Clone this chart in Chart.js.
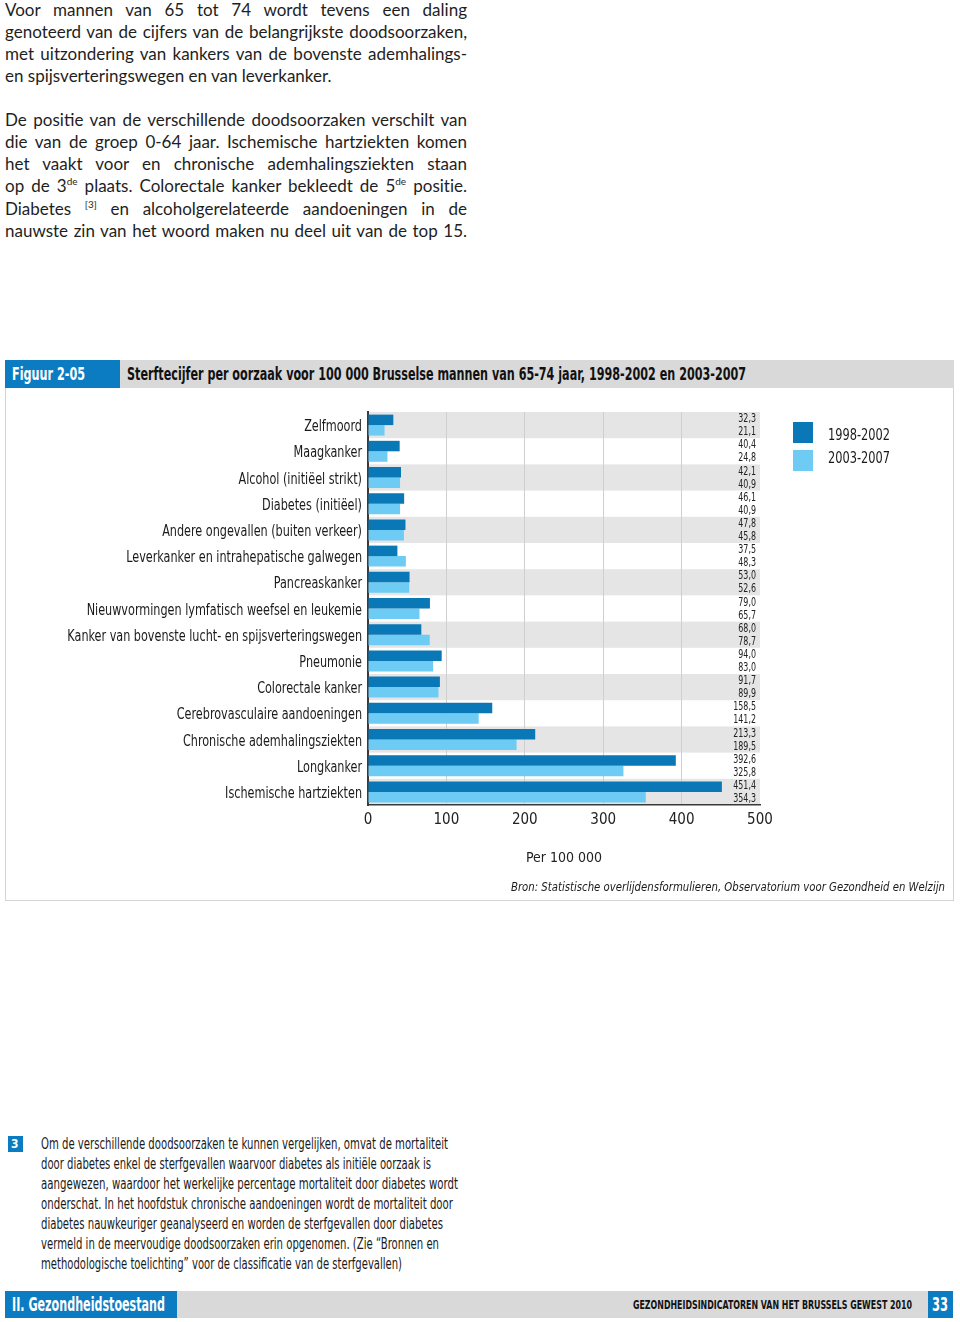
<!DOCTYPE html>
<html>
<head>
<meta charset="utf-8">
<script src="https://cdn.jsdelivr.net/npm/chart.js@4"></script>
<style>
  html, body { margin: 0; padding: 0; background: #fff; }
  body { position: relative; width: 960px; height: 1322px; overflow: hidden; color: #1a1a1a; }
  .abs { position: absolute; white-space: nowrap; }
  .j { position: absolute; left: 5px; width: 462px; font-family: Lato, "Open Sans", sans-serif; font-size: 17px;
       line-height: 22px; text-align: justify; text-align-last: justify; white-space: nowrap; color: #1e1e1e; }
  .j.last { text-align-last: left; }
  .j sup { font-size: 10px; line-height: 0; vertical-align: 7px; }
  .cond { font-family: "Liberation Sans Narrow", "DejaVu Sans Condensed", sans-serif; }
  .fit { transform-origin: 0 50%; }
  #figbox { position: absolute; left: 5px; top: 360px; width: 947px; height: 539px; border: 1px solid #d4d4d4; }
  #chartwrap { position: absolute; left: 0; top: 400px; width: 960px; height: 480px; }
</style>
</head>
<body>

<!-- body text -->
<div class="j" style="top:-1px">Voor mannen van 65 tot 74 wordt tevens een daling</div>
<div class="j" style="top:21px">genoteerd van de cijfers van de belangrijkste doodsoorzaken,</div>
<div class="j" style="top:43px">met uitzondering van kankers van de bovenste ademhalings-</div>
<div class="j last" style="top:65px">en spijsverteringswegen en van leverkanker.</div>

<div class="j" style="top:109px">De positie van de verschillende doodsoorzaken verschilt van</div>
<div class="j" style="top:131px">die van de groep 0-64 jaar. Ischemische hartziekten komen</div>
<div class="j" style="top:153px">het vaakt voor en chronische ademhalingsziekten staan</div>
<div class="j" style="top:175px">op de 3<sup>de</sup> plaats. Colorectale kanker bekleedt de 5<sup>de</sup> positie.</div>
<div class="j" style="top:198px">Diabetes <sup>[3]</sup> en alcoholgerelateerde aandoeningen in de</div>
<div class="j" style="top:220px">nauwste zin van het woord maken nu deel uit van de top 15.</div>

<!-- figure frame -->
<div id="figbox"></div>
<div class="abs" style="left:5px;top:360px;width:949px;height:28px;background:#d9d9d9"></div>
<div class="abs" style="left:5px;top:360px;width:115px;height:28px;background:#0b7cc1"></div>
<div class="abs cond fit" data-w="73" style="left:12px;top:364px;font-size:17px;font-weight:bold;color:#fff;line-height:20px">Figuur 2-05</div>
<div class="abs cond fit" data-w="619" style="left:127px;top:364px;font-size:17px;font-weight:bold;color:#111;line-height:20px">Sterftecijfer per oorzaak voor 100 000 Brusselse mannen van 65-74 jaar, 1998-2002 en 2003-2007</div>

<div id="chartwrap"><canvas id="chart" width="960" height="480"></canvas></div>

<!-- legend -->
<div class="abs" style="left:793px;top:422px;width:20px;height:21px;background:#0a78b6"></div>
<div class="abs" style="left:793px;top:450px;width:20px;height:21px;background:#6ecbf3"></div>
<div class="abs cond fit" data-w="62" style="left:828px;top:425px;font-size:16px;line-height:20px">1998-2002</div>
<div class="abs cond fit" data-w="62" style="left:828px;top:448px;font-size:16px;line-height:20px">2003-2007</div>

<div class="abs cond fit" data-w="434" style="left:511px;top:878px;font-size:13px;font-style:italic;line-height:18px">Bron: Statistische overlijdensformulieren, Observatorium voor Gezondheid en Welzijn</div>

<!-- footnote -->
<div class="abs" style="left:8px;top:1136px;width:15px;height:16px;background:#0b7cc1"></div>
<div class="abs cond" style="left:11px;top:1136px;font-size:12px;font-weight:bold;color:#fff;line-height:16px">3</div>
<div class="abs cond fit" data-w="407" style="left:41px;top:1134px;font-size:15px;line-height:20px">Om de verschillende doodsoorzaken te kunnen vergelijken, omvat de mortaliteit</div>
<div class="abs cond fit" data-w="390" style="left:41px;top:1154px;font-size:15px;line-height:20px">door diabetes enkel de sterfgevallen waarvoor diabetes als initiële oorzaak is</div>
<div class="abs cond fit" data-w="417" style="left:41px;top:1174px;font-size:15px;line-height:20px">aangewezen, waardoor het werkelijke percentage mortaliteit door diabetes wordt</div>
<div class="abs cond fit" data-w="412" style="left:41px;top:1194px;font-size:15px;line-height:20px">onderschat. In het hoofdstuk chronische aandoeningen wordt de mortaliteit door</div>
<div class="abs cond fit" data-w="402" style="left:41px;top:1214px;font-size:15px;line-height:20px">diabetes nauwkeuriger geanalyseerd en worden de sterfgevallen door diabetes</div>
<div class="abs cond fit" data-w="398" style="left:41px;top:1234px;font-size:15px;line-height:20px">vermeld in de meervoudige doodsoorzaken erin opgenomen. (Zie “Bronnen en</div>
<div class="abs cond fit" data-w="361" style="left:41px;top:1254px;font-size:15px;line-height:20px">methodologische toelichting” voor de classificatie van de sterfgevallen)</div>

<!-- footer -->
<div class="abs" style="left:5px;top:1291px;width:172px;height:27px;background:#0b7cc1"></div>
<div class="abs" style="left:177px;top:1291px;width:751px;height:27px;background:#d9d9d9"></div>
<div class="abs" style="left:928px;top:1291px;width:25px;height:27px;background:#0b7cc1"></div>
<div class="abs cond fit" data-w="153" style="left:12px;top:1292px;font-size:20px;font-weight:bold;color:#fff;line-height:24px">II. Gezondheidstoestand</div>
<div class="abs cond fit" data-w="279" style="left:633px;top:1297px;font-size:12px;font-weight:bold;color:#111;line-height:16px">GEZONDHEIDSINDICATOREN VAN HET BRUSSELS GEWEST 2010</div>
<div class="abs cond fit" data-w="16" style="left:932px;top:1293px;font-size:19px;font-weight:bold;color:#fff;line-height:22px">33</div>

<script>
// === data ===
const causes = [
  "Zelfmoord",
  "Maagkanker",
  "Alcohol (initiëel strikt)",
  "Diabetes (initiëel)",
  "Andere ongevallen (buiten verkeer)",
  "Leverkanker en intrahepatische galwegen",
  "Pancreaskanker",
  "Nieuwvormingen lymfatisch weefsel en leukemie",
  "Kanker van bovenste lucht- en spijsverteringswegen",
  "Pneumonie",
  "Colorectale kanker",
  "Cerebrovasculaire aandoeningen",
  "Chronische ademhalingsziekten",
  "Longkanker",
  "Ischemische hartziekten"
];
const rate9802 = [32.3, 40.4, 42.1, 46.1, 47.8, 37.5, 53.0, 79.0, 68.0, 94.0, 91.7, 158.5, 213.3, 392.6, 451.4];
const rate0307 = [21.1, 24.8, 40.9, 40.9, 45.8, 48.3, 52.6, 65.7, 78.7, 83.0, 89.9, 141.2, 189.5, 325.8, 354.3];
const xTicks = [0, 100, 200, 300, 400, 500];

const COND = '"Liberation Sans Narrow", "DejaVu Sans Condensed", sans-serif';

// squeeze html text lines to the width they have in the print
document.querySelectorAll('.fit').forEach(el => {
  const w = +el.dataset.w;
  const nat = el.getBoundingClientRect().width;
  if (nat > 0) el.style.transform = `scaleX(${w / nat})`;
});
document.querySelectorAll('.j').forEach(el => {
  const span = document.createElement('span');
  span.innerHTML = el.innerHTML;
  span.style.whiteSpace = 'nowrap';
  el.innerHTML = '';
  el.appendChild(span);
  const nat = span.getBoundingClientRect().width;
  if (nat > 462) {
    const n = span.textContent.length;
    el.style.letterSpacing = ((462 - nat) / n) + 'px';
  }
});

// draw text squeezed horizontally (the print uses a condensed face)
function narrowText(ctx, text, x, y, sx) {
  ctx.save();
  ctx.translate(x, y);
  ctx.scale(sx, 1);
  ctx.fillText(text, 0, 0);
  ctx.restore();
}

// alternating grey rows behind the bars
const rowBands = {
  id: 'rowBands',
  beforeDraw(chart) {
    const {ctx, chartArea, scales: {y}} = chart;
    const h = chartArea.height / causes.length;
    ctx.save();
    ctx.fillStyle = '#e5e5e5';
    causes.forEach((c, i) => {
      if (i % 2 === 0) {
        const yc = y.getPixelForValue(i);
        ctx.fillRect(chartArea.left, yc - h / 2, chartArea.right - chartArea.left, h);
      }
    });
    ctx.restore();
  }
};

// category names left of the axis, and value labels at the right end of each row
const textLayer = {
  id: 'textLayer',
  afterDatasetsDraw(chart) {
    const {ctx, chartArea, scales: {y}} = chart;
    ctx.save();
    ctx.fillStyle = '#1a1a1a';
    ctx.textAlign = 'right';
    ctx.textBaseline = 'middle';
    ctx.font = '16px ' + COND;
    causes.forEach((c, i) => {
      narrowText(ctx, c, chartArea.left - 6, y.getPixelForValue(i) + 2, 0.78);
    });
    ctx.font = '13px ' + COND;
    ctx.fillStyle = '#222';
    chart.data.datasets.forEach((ds, di) => {
      chart.getDatasetMeta(di).data.forEach((bar, i) => {
        const yy = bar.y + (di === 0 ? -1 : 1.5);
        narrowText(ctx, ds.data[i].toFixed(1).replace('.', ','), chartArea.right - 4, yy, 0.68);
      });
    });
    ctx.restore();
  }
};

const ctx = document.getElementById('chart').getContext('2d');
new Chart(ctx, {
  type: 'bar',
  data: {
    labels: causes,
    datasets: [
      {
        label: '1998-2002',
        data: rate9802,
        backgroundColor: '#0a78b6',
        categoryPercentage: 0.8,
        barPercentage: 1.0
      },
      {
        label: '2003-2007',
        data: rate0307,
        backgroundColor: '#6ecbf3',
        categoryPercentage: 0.8,
        barPercentage: 1.0
      }
    ]
  },
  options: {
    indexAxis: 'y',
    responsive: false,
    animation: false,
    layout: { padding: { top: 12, right: 200, bottom: 10, left: 0 } },
    scales: {
      x: {
        min: 0,
        max: 500,
        afterBuildTicks: scale => { scale.ticks = xTicks.map(v => ({ value: v })); },
        afterFit: scale => { scale.height = 65; },
        ticks: { font: { family: COND, size: 15 }, color: '#222', padding: 6 },
        grid: {
          drawTicks: false,
          color: c => (c.tick && (c.tick.value === 0 || c.tick.value === 500)) ? 'rgba(0,0,0,0)' : '#cfcfcf',
          lineWidth: 1
        },
        border: { display: true, color: '#3a3a3a', width: 1.5 },
        title: {
          display: true,
          text: 'Per 100 000',
          font: { family: COND, size: 14 },
          color: '#222',
          padding: { top: 0, bottom: 3 }
        }
      },
      y: {
        afterFit: scale => { scale.width = 368; },
        ticks: { display: false },
        grid: { display: false, drawTicks: false },
        border: { display: true, color: '#3a3a3a', width: 2 }
      }
    },
    plugins: {
      legend: { display: false },
      tooltip: { enabled: false }
    }
  },
  plugins: [rowBands, textLayer]
});
</script>
</body>
</html>
